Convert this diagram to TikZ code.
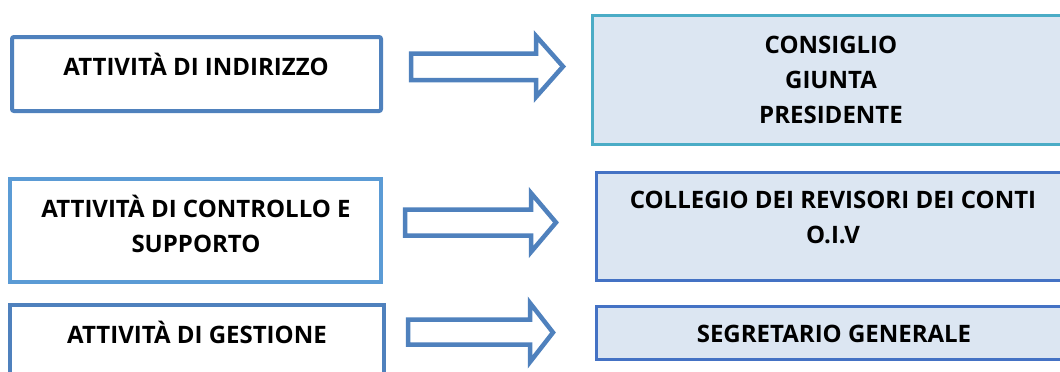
\documentclass[tikz,border=0pt]{standalone}
\usepackage{fontspec}
\setmainfont{Open Sans}
\definecolor{leftA}{HTML}{4F81BD}
\definecolor{leftB}{HTML}{5B9BD5}
\definecolor{rightA}{HTML}{4BACC6}
\definecolor{rightB}{HTML}{4472C4}
\definecolor{rightfill}{HTML}{DCE6F2}
\definecolor{arrowcol}{HTML}{4F81BD}
\begin{document}
\begin{tikzpicture}[x=1pt,y=-1pt,
  leftbox/.style={draw=leftA,line width=4pt,fill=white},
  rightbox/.style={line width=3pt,fill=rightfill},
  blockarrow/.style={draw=arrowcol,line width=4.5pt,fill=white,line join=miter},
  lbl/.style={font=\bfseries\fontsize{24}{35}\selectfont,align=center,anchor=base,inner sep=0pt}]
\useasboundingbox (0,0) rectangle (1060,372);
\begin{scope}
\clip (0,0) rectangle (1060,372);
% left boxes
\draw[leftbox,rounded corners=2pt] (12,37) rectangle (381,111);
\draw[leftbox,draw=leftB] (10,179) rectangle (381,282);
\draw[leftbox] (10,305) rectangle (384,380);
% right boxes
\draw[rightbox,draw=rightA] (592.5,15.5) rectangle (1070,144.5);
\draw[rightbox,draw=rightB] (596.5,172.5) rectangle (1070,280.5);
\draw[rightbox,draw=rightB] (596.5,306.5) rectangle (1070,359.5);
% block arrows
\draw[blockarrow] (411,53.5) -- (536,53.5) -- (536,36) -- (563,66.5) -- (536,97) -- (536,80) -- (411,80) -- cycle;
\draw[blockarrow] (405,209.5) -- (531,209.5) -- (531,193) -- (556,222.5) -- (531,252) -- (531,235.5) -- (405,235.5) -- cycle;
\draw[blockarrow] (408,319.5) -- (530,319.5) -- (530,303) -- (553,332.5) -- (530,362) -- (530,344.5) -- (408,344.5) -- cycle;
\end{scope}
% labels (base anchor = baseline of last line)
\node[lbl] (t1) at (196,75) {ATTIVITÀ DI INDIRIZZO};
\node[lbl] (t2) at (196,252) {ATTIVITÀ DI CONTROLLO E\\SUPPORTO};
\node[lbl] (t3) at (197,343) {ATTIVITÀ DI GESTIONE};
\node[lbl] (r1) at (831,123) {CONSIGLIO\\GIUNTA\\PRESIDENTE};
\node[lbl] (r2) at (833,243) {COLLEGIO DEI REVISORI DEI CONTI\\O.I.V};
\node[lbl] (r3) at (834,342) {SEGRETARIO GENERALE};
\end{tikzpicture}
\end{document}
